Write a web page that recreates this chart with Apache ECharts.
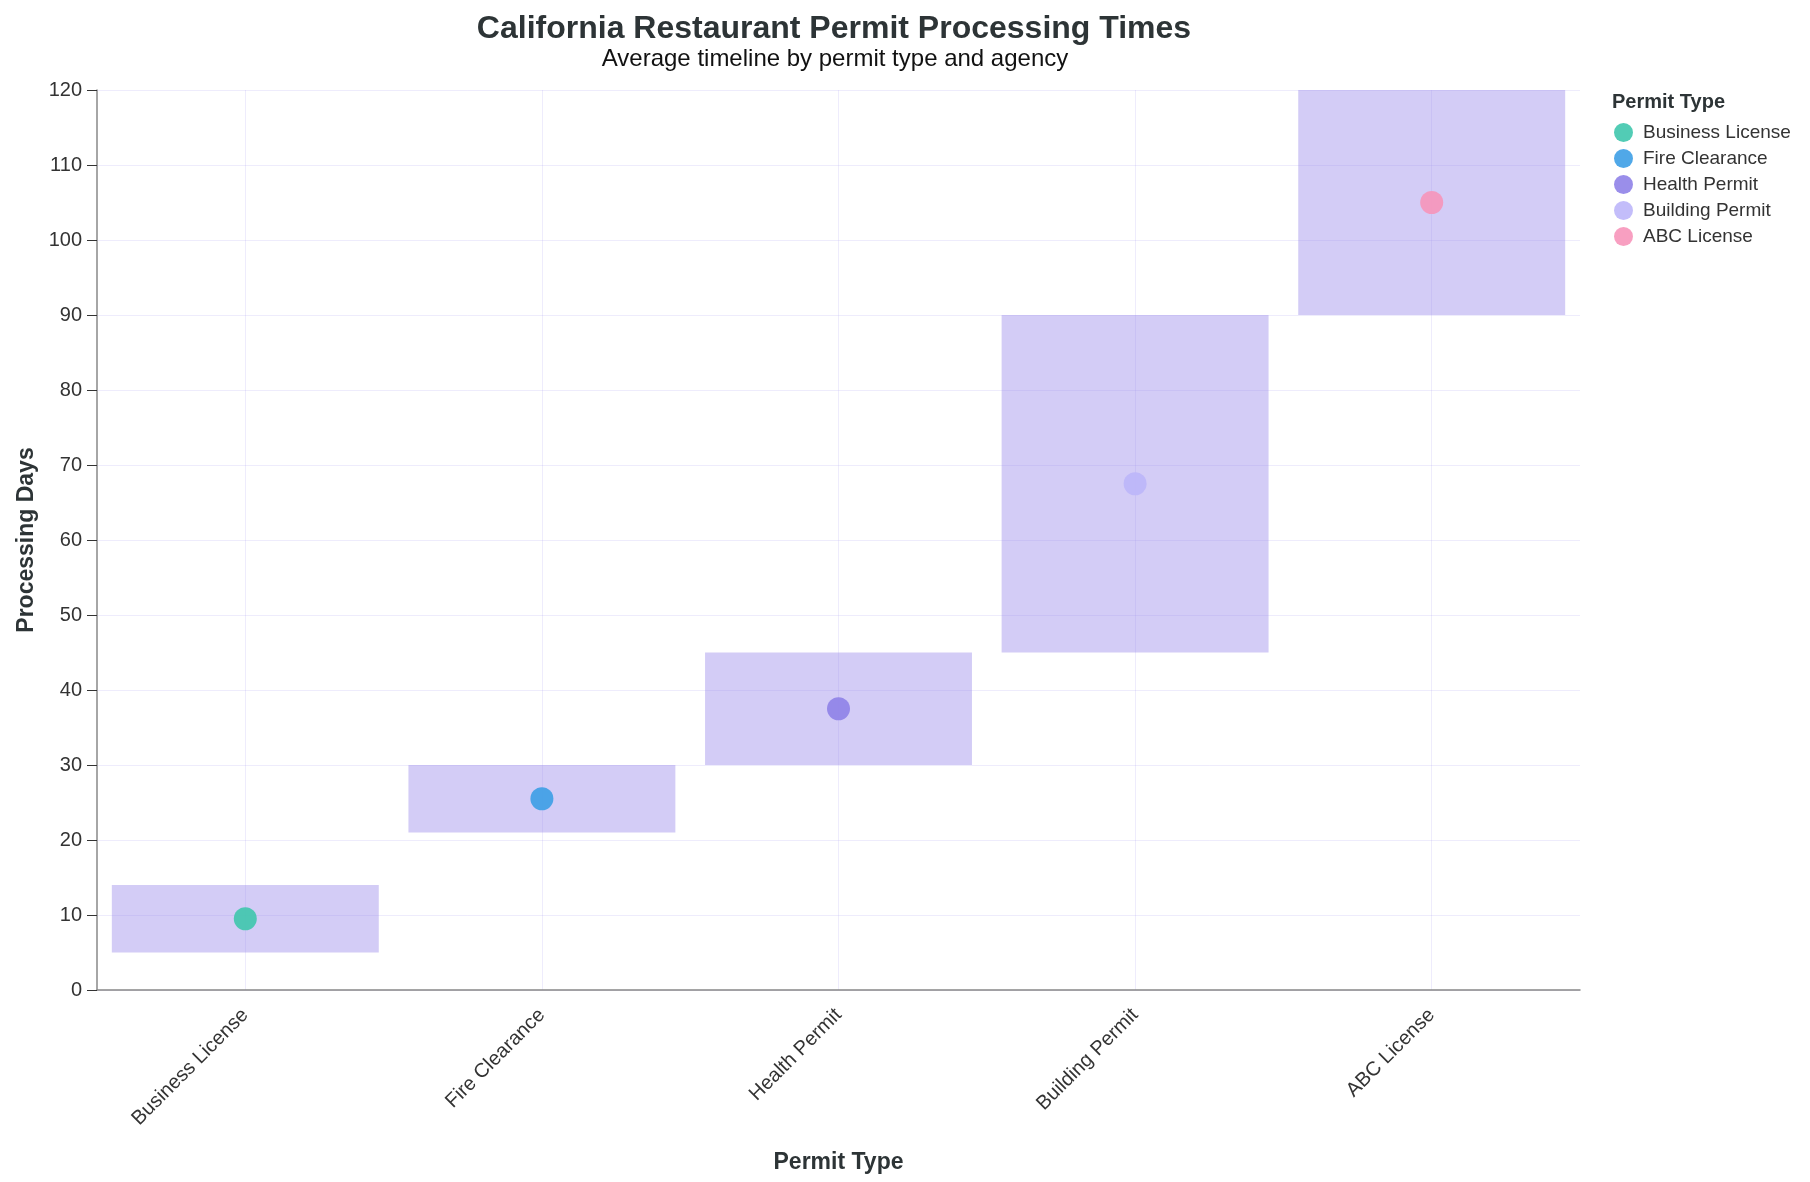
<!DOCTYPE html>
<html>
<head>
<meta charset="utf-8">
<script src="https://cdn.jsdelivr.net/npm/echarts@6/dist/echarts.min.js"></script>
<style>
    html, body { margin: 0; padding: 0; background: #fff; }
    #chart { width: 1810px; height: 1182px; }
</style>
</head>
<body>
<div id="chart"></div>
<script>
    // permit types on the x axis
    var categories = ['Business License', 'Fire Clearance', 'Health Permit', 'Building Permit', 'ABC License'];
    // processing range (days) per permit
    var minDays = [5, 21, 30, 45, 90];
    var maxDays = [14, 30, 45, 90, 120];
    // average processing days
    var avgDays = [9.5, 25.5, 37.5, 67.5, 105];
    var pointColors = ['#3fc7ad', '#3d9fe6', '#8f82e8', '#bdb6fa', '#f795ba'];

    var font = '"Liberation Sans", Arial, Helvetica, sans-serif';
    var textColor = '#2d3436';
    var gridColor = 'rgba(150,135,235,0.16)';

    var myChart = echarts.init(document.getElementById('chart'));

    var series = [
        {
            name: 'base',
            type: 'bar',
            stack: 'range',
            barWidth: '90%',
            silent: true,
            itemStyle: { color: 'transparent' },
            data: minDays
        },
        {
            name: 'range',
            type: 'bar',
            stack: 'range',
            barWidth: '90%',
            silent: true,
            itemStyle: { color: 'rgba(155,140,235,0.44)' },
            data: maxDays.map(function (v, i) { return v - minDays[i]; })
        }
    ];
    categories.forEach(function (c, i) {
        series.push({
            name: c,
            type: 'scatter',
            symbolSize: 23,
            z: 5,
            itemStyle: { color: pointColors[i], opacity: 0.9 },
            data: [[c, avgDays[i]]]
        });
    });

    var option = {
        animation: false,
        textStyle: { fontFamily: font },
        title: [
            {
                text: 'California Restaurant Permit Processing Times',
                left: 829, top: 8, textAlign: 'center',
                textStyle: { fontSize: 32, fontWeight: 'bold', color: textColor, fontFamily: font }
            },
            {
                text: 'Average timeline by permit type and agency',
                left: 830, top: 42, textAlign: 'center',
                textStyle: { fontSize: 24, fontWeight: 'normal', color: '#111', fontFamily: font }
            },
            {
                text: 'Permit Type',
                left: 1607, top: 87,
                textStyle: { fontSize: 20, fontWeight: 'bold', color: textColor, fontFamily: font }
            }
        ],
        legend: {
            data: categories,
            orient: 'vertical',
            left: 1614, top: 123,
            padding: 0,
            icon: 'circle',
            itemWidth: 19, itemHeight: 19,
            itemGap: 7,
            textStyle: { fontSize: 19, lineHeight: 19, color: '#333', fontFamily: font, padding: [0, 0, 0, 5] }
        },
        grid: { left: 97, right: 230, top: 90, bottom: 192 },
        xAxis: {
            type: 'category',
            data: categories,
            z: 3,
            name: 'Permit Type',
            nameLocation: 'middle',
            nameGap: 161,
            nameTextStyle: { fontSize: 23, fontWeight: 'bold', color: textColor, fontFamily: font },
            axisLine: { lineStyle: { color: '#888', width: 1.5 } },
            axisTick: { alignWithLabel: true, length: 10, lineStyle: { color: '#333' } },
            axisLabel: { rotate: 45, margin: 22, fontSize: 20, color: '#333', fontFamily: font },
            splitLine: { show: true, alignWithLabel: true, lineStyle: { color: gridColor } }
        },
        yAxis: {
            type: 'value',
            min: 0, max: 120, interval: 10,
            z: 3,
            name: 'Processing Days',
            nameLocation: 'middle',
            nameGap: 56,
            nameTextStyle: { fontSize: 23, fontWeight: 'bold', color: textColor, fontFamily: font },
            axisLine: { show: true, lineStyle: { color: '#888', width: 1.5 } },
            axisTick: { show: true, length: 10, lineStyle: { color: '#333' } },
            axisLabel: { margin: 15, fontSize: 20, color: '#333', fontFamily: font },
            splitLine: { lineStyle: { color: gridColor } }
        },
        series: series
    };
    myChart.setOption(option);
</script>
</body>
</html>
